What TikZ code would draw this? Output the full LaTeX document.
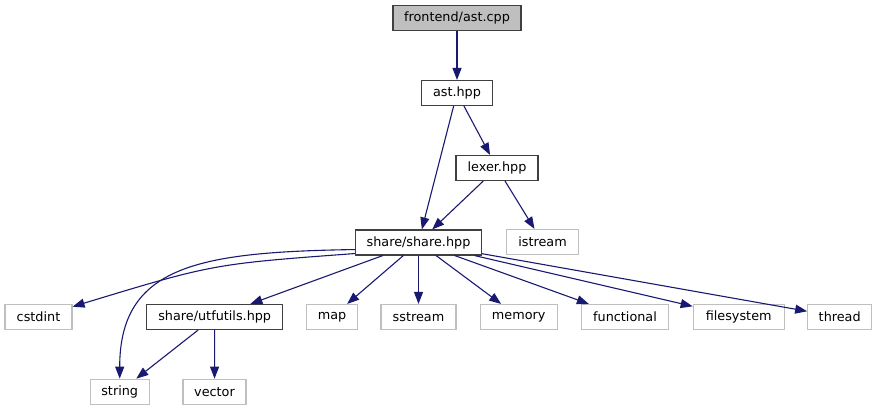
\documentclass[tikz,border=0pt]{standalone}
\usepackage{fontspec}
\setmainfont{DejaVu Sans}
\usetikzlibrary{arrows.meta}
\definecolor{edgeblue}{HTML}{191970}
\definecolor{greyb}{HTML}{BFBFBF}
\definecolor{darkb}{HTML}{404040}
\begin{document}
\begin{tikzpicture}[x=1pt,y=-1pt,
  box/.style={draw=darkb,line width=1.1pt,fill=white,minimum height=25pt,inner sep=0pt,
    font=\fontsize{12.8}{14}\selectfont},
  sysbox/.style={box,draw=greyb},
  rootbox/.style={box,fill=greyb},
  edge/.style={draw=edgeblue,line width=1.1pt,-{Triangle[length=12pt,width=9pt]}}]
\useasboundingbox (0,0) rectangle (877,411);
\node[rootbox,minimum width=128pt] (cpp) at (457,18.3) {frontend/ast.cpp};
\node[box,minimum width=71pt] (ast) at (457,93) {ast.hpp};
\node[box,minimum width=82pt] (lexer) at (497,168) {lexer.hpp};
\node[box,minimum width=126pt] (share) at (418.5,242.5) {share/share.hpp};
\node[sysbox,minimum width=72pt] (istream) at (542.5,242) {istream};
\node[sysbox,minimum width=67pt] (cstdint) at (38.5,317) {cstdint};
\node[box,minimum width=136pt] (utf) at (214.7,317) {share/utfutils.hpp};
\node[sysbox,minimum width=51pt] (map) at (332,317) {map};
\node[sysbox,minimum width=75pt] (sstream) at (418.5,317) {sstream};
\node[sysbox,minimum width=77pt] (memory) at (518.7,317) {memory};
\node[sysbox,minimum width=87pt] (functional) at (625,317) {functional};
\node[sysbox,minimum width=91pt] (filesystem) at (738.7,317) {filesystem};
\node[sysbox,minimum width=64pt] (thread) at (839.7,317) {thread};
\node[sysbox,minimum width=59pt] (string) at (119.7,391.7) {string};
\node[sysbox,minimum width=63pt] (vector) at (214.5,391.7) {vector};

\draw[edge] (cpp) -- (ast);
\draw[edge] (ast) -- (share);
\draw[edge] (ast) -- (lexer);
\draw[edge] (lexer) -- (share);
\draw[edge] (lexer) -- (istream);
\draw[edge] ([yshift=6pt]share.south west) .. controls (200,252) and (119.7,265) .. (string.north);
\draw[edge] ([yshift=2pt]share.south west) .. controls (213,264) .. (cstdint);
\draw[edge] (share) -- (utf);
\draw[edge] (share) -- (map);
\draw[edge] (share) -- (sstream);
\draw[edge] (share) -- (memory);
\draw[edge] (share) -- (functional);
\draw[edge] (share) -- (filesystem);
\draw[edge] (share) -- (thread);
\draw[edge] (utf) -- (string);
\draw[edge] (utf) -- (vector);
\end{tikzpicture}
\end{document}
